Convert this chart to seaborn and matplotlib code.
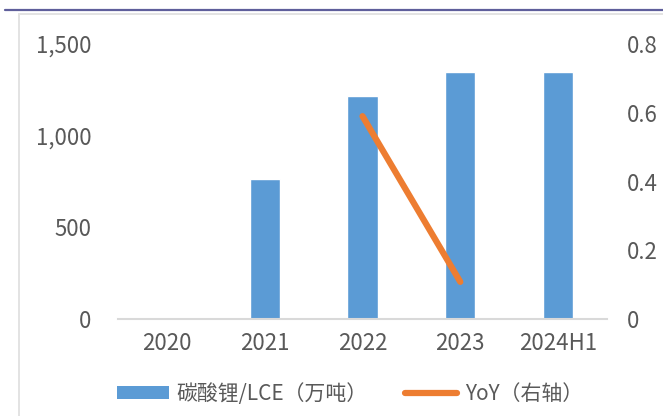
import numpy as np
import pandas as pd
import matplotlib
matplotlib.use("Agg")
import matplotlib.pyplot as plt
from matplotlib.patches import Patch, Rectangle
from matplotlib.lines import Line2D
import seaborn as sns

# Data
categories = ["2020", "2021", "2022", "2023", "2024H1"]
lce_volume = [0, 765, 1218, 1350, 1350]            # 碳酸锂/LCE(万吨)
yoy = [np.nan, np.nan, 0.59, 0.108, np.nan]        # YoY(右轴)
left_ticks = [0, 500, 1000, 1500]
left_tick_labels = ["0", "500", "1,000", "1,500"]
right_ticks = [0, 0.2, 0.4, 0.6, 0.8]
right_tick_labels = ["0", "0.2", "0.4", "0.6", "0.8"]
bar_label = "碳酸锂/LCE（万吨）"
line_label = "YoY（右轴）"

BLUE = "#5B9BD5"
ORANGE = "#ED7D31"
TEXT = "#595959"
GRID = "#D9D9D9"

sns.set_theme(style="white")
plt.rcParams["font.family"] = ["Noto Sans CJK SC", "DejaVu Sans"]
plt.rcParams["font.weight"] = "light"

df = pd.DataFrame({"category": categories, "volume": lce_volume, "yoy": yoy})
df["pos"] = np.arange(len(df))

W, H = 663, 416
fig = plt.figure(figsize=(W / 100, H / 100), dpi=100)

# outer frame decorations
fig.add_artist(Line2D([5 / W, 1.0], [1 - 10 / H, 1 - 10 / H],
                      color="#5F5F9B", lw=1.6, transform=fig.transFigure))
fig.add_artist(Rectangle((19 / W, -0.05), 1.1, 1 - 14 / H + 0.05,
                         fill=False, edgecolor="#E3E3E3", lw=1.4,
                         transform=fig.transFigure))

ax_left, ax_right = 118 / W, 607 / W
ax_bottom, ax_top = 1 - 319 / H, 1 - 44 / H
ax = fig.add_axes([ax_left, ax_bottom, ax_right - ax_left, ax_top - ax_bottom])

sns.barplot(data=df, x="category", y="volume", color=BLUE, width=0.31,
            saturation=1, ax=ax)
ax.set_ylim(0, 1500)
ax.set_xlim(-0.5, len(categories) - 0.5)
ax.set_yticks(left_ticks)
ax.set_yticklabels(left_tick_labels)
ax.set_xlabel("")
ax.set_ylabel("")
for s in ["top", "right", "left"]:
    ax.spines[s].set_visible(False)
ax.spines["bottom"].set_color(GRID)
ax.spines["bottom"].set_linewidth(1.5)
ax.tick_params(axis="y", length=0, pad=19, labelsize=16, labelcolor=TEXT)
ax.tick_params(axis="x", length=0, pad=9, labelsize=16, labelcolor=TEXT)

ax2 = ax.twinx()
sns.lineplot(data=df, x="pos", y="yoy", color=ORANGE, lw=4.5, ax=ax2,
             solid_capstyle="round")
ax2.set_ylim(0, 0.8)
ax2.set_yticks(right_ticks)
ax2.set_yticklabels(right_tick_labels)
ax2.set_xlim(-0.5, len(categories) - 0.5)
ax2.set_ylabel("")
ax2.set_xlabel("")
for s in ["top", "right", "left", "bottom"]:
    ax2.spines[s].set_visible(False)
ax2.tick_params(axis="y", length=0, pad=14, labelsize=16, labelcolor=TEXT)
ax2.grid(False)
ax.grid(False)

handles = [Patch(facecolor=BLUE, edgecolor="none"),
           Line2D([0], [0], color=ORANGE, lw=4.5, solid_capstyle="round")]
fig.legend(handles, [bar_label, line_label], loc="center",
           bbox_to_anchor=(350 / W, 1 - 394 / H), ncol=2, frameon=False,
           fontsize=15, labelcolor=TEXT, handlelength=2.5, handleheight=0.55,
           handletextpad=0.35, columnspacing=1.8)

fig.savefig("out.png", dpi=100)
